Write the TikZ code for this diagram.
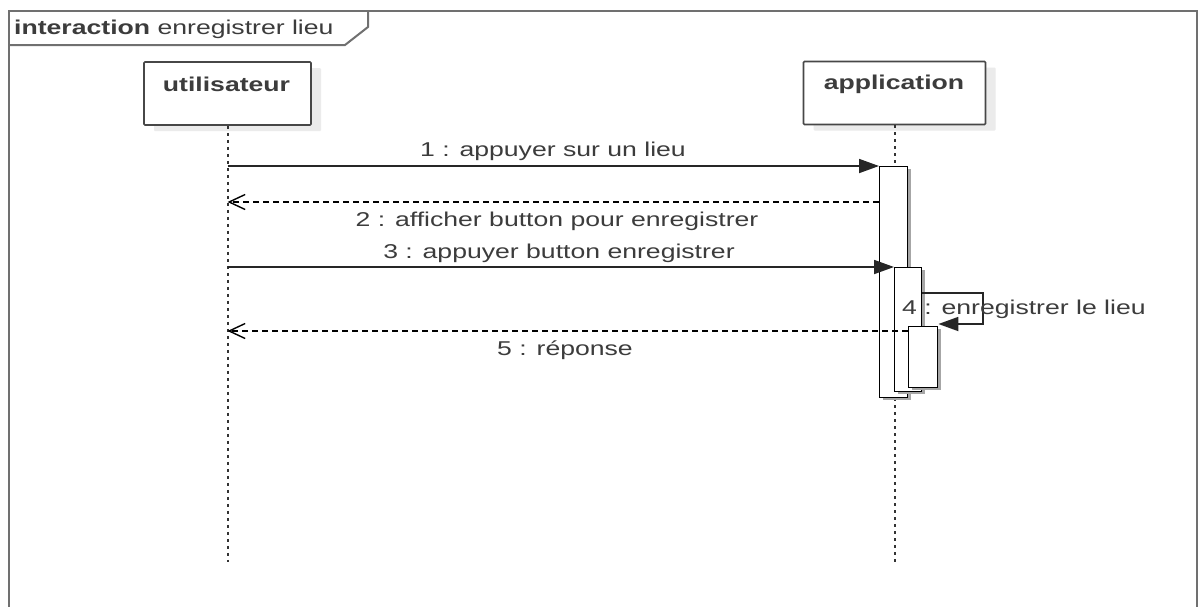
\documentclass[tikz,border=0pt]{standalone}
\usepackage{fontspec}
\setmainfont{Liberation Sans}[FakeStretch=1.33]
\usetikzlibrary{arrows.meta,calc,shadows}
\definecolor{ink}{HTML}{3C3C3C}
\definecolor{framegray}{HTML}{707070}

\begin{document}
\begin{tikzpicture}[x=1pt,y=-1pt,
  font=\fontsize{20}{24}\selectfont,
  every node/.style={text=ink},
  frameline/.style={draw=framegray, line width=2pt},
  headbox/.style={draw=black!72, line width=1.6pt, fill=white, rounded corners=1pt,
    minimum width=167pt, minimum height=63pt, inner sep=0pt,
    general shadow={fill=black!8, shadow xshift=10pt, shadow yshift=-6pt}},
  headtext/.style={font=\fontsize{20}{24}\selectfont\bfseries, anchor=base, inner sep=0pt},
  lifeline/.style={draw=black!80, line width=2pt, dash pattern=on 3pt off 4pt},
  actbar/.style={draw=black, line width=1.4pt, fill=white, inner sep=0pt, minimum width=28pt,
    general shadow={fill=black!35, shadow xshift=3pt, shadow yshift=-2pt}},
  syncmsg/.style={draw=black!85, line width=1.8pt, -{Triangle[length=20pt,width=14pt]}},
  replymsg/.style={draw=black, line width=1.3pt, dash pattern=on 6pt off 4pt,
    -{Straight Barb[length=16pt,width=15pt,line width=1.4pt]}},
  msglabel/.style={anchor=base, inner sep=0pt}
]
% page and background
\useasboundingbox (0,0) rectangle (1200,606);
\fill[white] (0,0) rectangle (1200,606);

% interaction frame with its name tab
\draw[frameline] (9,640) -- (9,11) -- (1197,11) -- (1197,640);
\draw[frameline] (9,45) -- (345,45) -- (368,27) -- (368,11);
\node[anchor=base west, inner sep=0pt] (title) at (14,34)
  {\textbf{interaction} enregistrer lieu};

% lifeline heads
\node[headbox] (u) at (227.5,93.5) {};
\node[headtext] (ut) at (226.5,91) {utilisateur};
\node[headbox, minimum width=182pt] (app) at (894.5,93) {};
\node[headtext] (appt) at (894,89) {application};

% lifelines
\coordinate (uend) at (227.5,562);
\coordinate (aend) at (894.5,562);
\draw[lifeline] (u.south) -- (u.south |- uend);
\draw[lifeline] (app.south) -- (app.south |- aend);

% execution specifications
\node[actbar, minimum height=231pt, anchor=north west] (a1) at (879,166) {};
\node[actbar, minimum width=27pt, minimum height=124pt, anchor=north west] (a2) at (894,267) {};
\node[actbar, minimum width=29pt, minimum height=61pt, anchor=north west] (a3) at (908,326) {};

% message levels
\coordinate (m1) at (0,166);
\coordinate (m2) at (0,202);
\coordinate (m3) at (0,267);
\coordinate (m4a) at (0,293);
\coordinate (m4b) at (0,324);
\coordinate (m5) at (0,331);
\coordinate (loop) at (983,293);

% messages
\draw[syncmsg] (u.south |- m1) -- (a1.north west);
\draw[replymsg] (a1.west |- m2) -- (u.south |- m2);
\draw[syncmsg] (u.south |- m3) -- (a2.north west);
\draw[syncmsg] (a2.east |- m4a) -- (loop |- m4a) -- (loop |- m4b) -- (a3.east |- m4b);
\draw[replymsg] (a3.west |- m5) -- (u.south |- m5);

% message labels
\node[msglabel] (l1) at (553,156) {1 : appuyer sur un lieu};
\node[msglabel] (l2) at (557,226.5) {2 : afficher button pour enregistrer};
\node[msglabel] (l3) at (559,258) {3 : appuyer button enregistrer};
\node[msglabel, anchor=base west] (l4) at (902,314) {4 : enregistrer le lieu};
\node[msglabel] (l5) at (565,355) {5 : réponse};
\end{tikzpicture}
\end{document}
